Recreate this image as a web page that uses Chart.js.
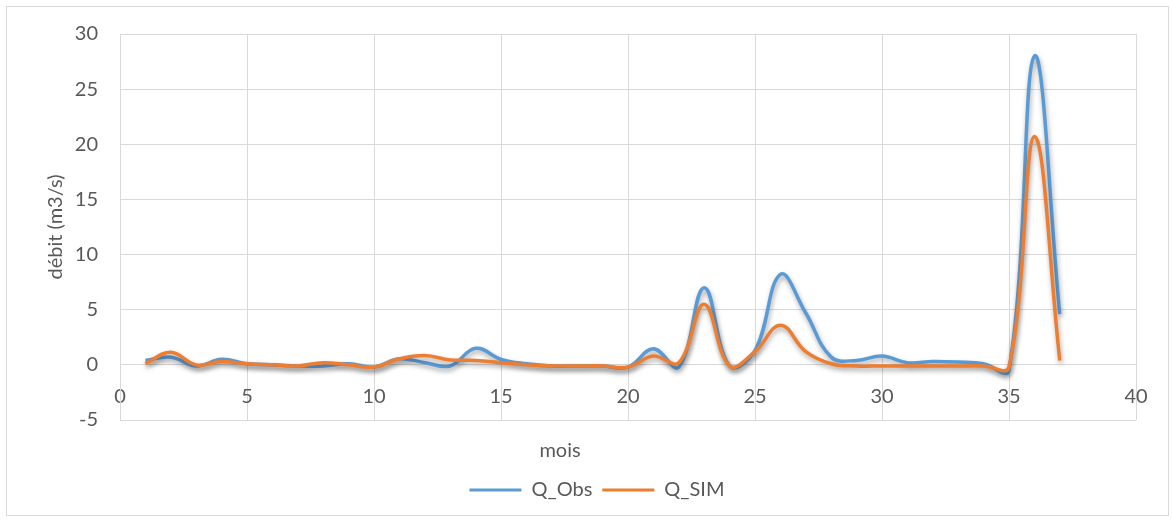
<!DOCTYPE html>
<html>
<head>
<meta charset="utf-8">
<script src="https://cdn.jsdelivr.net/npm/chart.js@4/dist/chart.umd.min.js"></script>
<style>
    body { margin: 0; background: #fff; }
    #wrap { width: 1172px; height: 522px; }
</style>
</head>
<body>
<div id="wrap"><canvas id="debitChart" width="1172" height="522"></canvas></div>
<script>
// months (x) and flows
const months = [1, 2, 3, 4, 5, 6, 7, 8, 9, 10, 11, 12, 13, 14, 15, 16, 17, 18, 19, 20,
    21, 22, 23, 24, 25, 26, 27, 28, 29, 30, 31, 32, 33, 34, 35, 36, 37];
const qObs = [0.4, 0.7, -0.1, 0.5, 0.1, 0.0, -0.1, -0.1, 0.1, -0.2, 0.55, 0.2, -0.1, 1.5, 0.5, 0.1, -0.1, -0.1, -0.1, -0.2,
    1.45, -0.2, 7.0, -0.1, 1.3, 8.2, 4.7, 0.7, 0.4, 0.8, 0.2, 0.3, 0.25, 0.1, -0.5, 28.0, 4.6];
const qSim = [0.1, 1.15, 0.0, 0.3, 0.1, 0.0, -0.1, 0.2, 0.0, -0.2, 0.55, 0.85, 0.45, 0.4, 0.2, 0.0, -0.1, -0.1, -0.1, -0.2,
    0.8, 0.2, 5.5, -0.1, 1.2, 3.6, 1.2, 0.1, -0.1, -0.1, -0.1, -0.1, -0.1, -0.1, -0.2, 20.7, 0.4];
const seriesNames = ["Q_Obs", "Q_SIM"];

const gridColor = "#d9d9d9";
const textColor = "#595959";
const fontFamily = "Lato, 'Open Sans', sans-serif";
const fontSize = 20;

// Excel style: shadow under the lines, outer frame, "mois" title, legend moved down
const excelLook = {
    id: "excelLook",
    beforeDraw(chart) {
        const ctx = chart.ctx;
        ctx.save();
        ctx.strokeStyle = gridColor;
        ctx.lineWidth = 1;
        ctx.strokeRect(6.5, 6.5, 1162, 509);
        ctx.restore();
    },
    afterLayout(chart) {
        const lg = chart.legend;
        lg.top += 50;
        lg.bottom += 50;
        lg.left += 29;
        lg.right += 29;
    },
    beforeDatasetsDraw(chart) {
        const ctx = chart.ctx;
        ctx.save();
        ctx.shadowColor = "rgba(0,0,0,0.35)";
        ctx.shadowBlur = 5;
        ctx.shadowOffsetX = 1;
        ctx.shadowOffsetY = 3;
    },
    afterDatasetsDraw(chart) {
        chart.ctx.restore();
    },
    afterDraw(chart) {
        const ctx = chart.ctx;
        const area = chart.chartArea;
        ctx.save();
        ctx.fillStyle = textColor;
        ctx.font = fontSize + "px " + fontFamily;
        ctx.textAlign = "center";
        ctx.textBaseline = "middle";
        ctx.fillText("mois", (area.left + area.right) / 2 - 68, area.bottom + 31);
        ctx.restore();
    }
};

const ctx = document.getElementById("debitChart").getContext("2d");
const debitChart = new Chart(ctx, {
    type: "line",
    data: {
        datasets: [
            {
                label: seriesNames[0],
                data: months.map((m, i) => ({ x: m, y: qObs[i] })),
                borderColor: "#5B9BD5",
                backgroundColor: "#5B9BD5",
                order: 2,
            },
            {
                label: seriesNames[1],
                data: months.map((m, i) => ({ x: m, y: qSim[i] })),
                borderColor: "#ED7D31",
                backgroundColor: "#ED7D31",
                order: 1,
            },
        ],
    },
    options: {
        responsive: false,
        animation: false,
        layout: {
            padding: { left: 0, right: 36, top: 34, bottom: 62 },
        },
        elements: {
            point: { radius: 0 },
            line: { borderWidth: 3.5, tension: 0.4, fill: false },
        },
        scales: {
            x: {
                type: "linear",
                position: { y: 0 }, // axis crosses at 0 like in Excel
                min: 0,
                max: 40,
                ticks: {
                    stepSize: 5,
                    padding: 20,
                    color: textColor,
                    font: { family: fontFamily, size: fontSize },
                },
                grid: { color: gridColor, drawTicks: false },
                border: { color: gridColor },
            },
            y: {
                min: -5,
                max: 30,
                ticks: {
                    stepSize: 5,
                    padding: 22,
                    color: textColor,
                    font: { family: fontFamily, size: fontSize },
                },
                grid: { color: gridColor, drawTicks: false },
                border: { color: gridColor },
                title: {
                    display: true,
                    text: "débit (m3/s)",
                    color: textColor,
                    font: { family: fontFamily, size: fontSize },
                    padding: { top: 44, bottom: 0 },
                },
                afterFit(scale) {
                    scale.width = 120;
                },
            },
        },
        plugins: {
            legend: {
                position: "bottom",
                labels: {
                    boxWidth: 52,
                    boxHeight: 3,
                    padding: 10,
                    color: textColor,
                    font: { family: fontFamily, size: fontSize },
                    // thin line instead of the stroked box
                    generateLabels: (chart) =>
                        Chart.defaults.plugins.legend.labels
                            .generateLabels(chart)
                            .map((item) => ({ ...item, lineWidth: 0 })),
                    sort: (a, b) => a.datasetIndex - b.datasetIndex,
                },
            },
            tooltip: { enabled: false },
        },
    },
    plugins: [excelLook],
});
</script>
</body>
</html>
